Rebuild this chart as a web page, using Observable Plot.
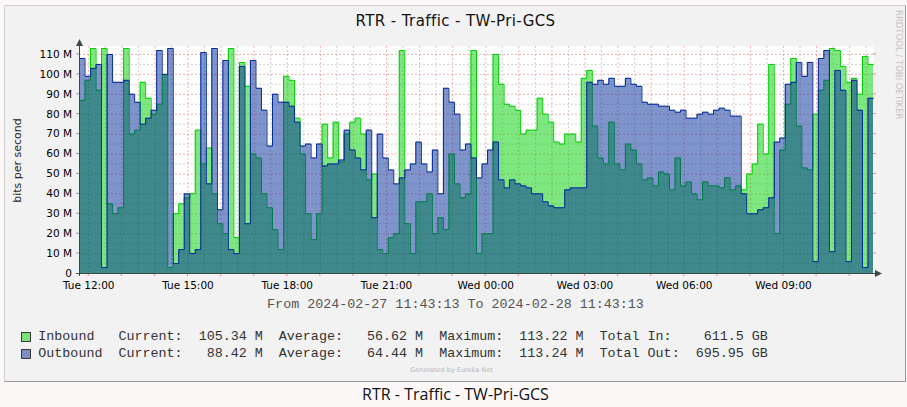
<!DOCTYPE html>
<html>
<head>
<meta charset="utf-8">
<script src="https://cdn.jsdelivr.net/npm/d3@7"></script>
<script src="https://cdn.jsdelivr.net/npm/@observablehq/plot@0.6"></script>
<style>
  html, body { margin: 0; padding: 0; }
  body { width: 907px; height: 407px; position: relative; overflow: hidden; background: #fcf8f7; }
  #frame { position: absolute; left: 4px; top: 5px; width: 902px; height: 377px; box-sizing: border-box;
           background: #f2f2f2; border-style: solid; border-width: 1px;
           border-color: #cfcfcf #9a9a9a #9a9a9a #cfcfcf; }
  .t { position: absolute; white-space: pre; line-height: 1; }
  #title { left: 0; width: 911px; top: 13.6px; text-align: center; font-family: "DejaVu Sans"; font-size: 15px; letter-spacing: 0.4px; color: #111; }
  #ylab { left: -83.5px; width: 200px; top: 154.5px; text-align: center; font-family: "DejaVu Sans"; font-size: 11px; color: #222; transform: rotate(-90deg); }
  #chart { position: absolute; left: 0; top: 30px; }
  .mono { font-family: "Liberation Mono", monospace; font-size: 13.37px; color: #333; }
  #range { left: 0; width: 911px; text-align: center; top: 298px; color: #555; }
  .box { position: absolute; width: 10px; height: 10px; box-sizing: border-box; border: 1px solid #3a3a3a; }
  #gen { left: 0; width: 903px; text-align: center; top: 367px; font-family: "DejaVu Sans"; font-size: 6.5px; color: #b5b5b5; }
  #rrd { left: 894px; top: 10px; writing-mode: vertical-rl; font-family: "DejaVu Sans"; font-size: 8.5px; color: #c2c2c2; }
  #caption { left: 0; width: 911px; text-align: center; top: 386px; font-family: "Open Sans"; font-size: 16px; color: #111; }
</style>
</head>
<body>
<div id="frame"></div>
<div id="title" class="t"></div>
<div id="ylab" class="t"></div>
<div id="rrd" class="t"></div>
<div id="chart"></div>
<div id="range" class="t mono"></div>
<div id="legend"></div>
<div id="gen" class="t"></div>
<div id="caption" class="t"></div>
<script>
// ---------- data (10-minute samples, M bits/s) ----------
const inbound = [
  87, 97, 113, 92, 113, 35, 30, 33, 113, 70, 72, 96, 88, 80, 85, 100, 3, 30, 35, 38, 40, 72, 55, 63, 40, 25, 20, 113, 18,
  106, 94, 60, 58, 40, 33, 22, 12, 99, 97, 78, 60, 30, 17, 30, 75, 58, 76, 56, 70, 76, 78, 70, 47, 50, 12, 10, 18, 20,
  112, 25, 10, 36, 36, 40, 20, 28, 22, 60, 45, 38, 40, 112, 10, 20, 20, 110, 95, 85, 84, 82, 70, 72, 72, 88, 80, 76, 66,
  65, 70, 70, 66, 98, 102, 74, 58, 55, 76, 55, 52, 65, 62, 55, 47, 48, 44, 51, 50, 42, 58, 44, 46, 40, 37, 46, 44, 44,
  43, 48, 42, 44, 42, 50, 55, 75, 60, 105, 20, 62, 85, 108, 74, 53, 52, 80, 92, 97, 113, 112, 104, 96, 98, 90, 109, 105
];
const outbound = [
  108, 99, 103, 105, 3, 110, 96, 96, 97, 90, 86, 75, 78, 82, 112, 100, 113, 5, 12, 40, 10, 12, 111, 45, 113, 32, 107, 12, 10,
  104, 25, 107, 93, 82, 64, 90, 86, 86, 84, 76, 64, 65, 58, 65, 54, 55, 55, 57, 72, 62, 58, 52, 72, 28, 70, 58, 52, 45,
  48, 52, 55, 66, 55, 51, 62, 40, 93, 86, 80, 62, 65, 58, 48, 55, 62, 66, 47, 43, 47, 45, 44, 43, 40, 40, 36, 34, 33,
  33, 42, 43, 43, 43, 96, 95, 97, 95, 98, 94, 94, 98, 95, 94, 86, 85, 85, 84, 84, 82, 81, 82, 78, 78, 80, 81, 80, 82,
  83, 82, 79, 79, 40, 30, 30, 32, 33, 38, 66, 68, 95, 96, 106, 99, 106, 6, 108, 112, 11, 102, 92, 6, 97, 82, 3, 88
];
const startHour = 11 + 43/60 + 13/3600;   // 2024-02-27 11:43:13
const stepMinutes = 10;
const spanHours = 24;

const xTicks = [12, 15, 18, 21, 24, 27, 30, 33];
const xTickLabels = ["Tue 12:00", "Tue 15:00", "Tue 18:00", "Tue 21:00", "Wed 00:00", "Wed 03:00", "Wed 06:00", "Wed 09:00"];
const yTicks = [0, 10, 20, 30, 40, 50, 60, 70, 80, 90, 100, 110];
const yTickLabels = ["0", "10 M", "20 M", "30 M", "40 M", "50 M", "60 M", "70 M", "80 M", "90 M", "100 M", "110 M"];
const yMax = 114;

const titleText = "RTR - Traffic - TW-Pri-GCS";
const yAxisTitle = "bits per second";
const rangeText = "From 2024-02-27 11:43:13 To 2024-02-28 11:43:13";
const legendNames = ["Inbound", "Outbound"];
const legendCurrent = ["105.34 M", "88.42 M"];
const legendAverage = ["56.62 M", "64.44 M"];
const legendMaximum = ["113.22 M", "113.24 M"];
const legendTotalLabel = ["Total In:", "Total Out:"];
const legendTotal = ["611.5 GB", "695.95 GB"];
const legendColors = ["#7ae17a", "#7a8fc6"];

// ---------- build ----------
const rows = inbound.map((v, i) => ({t: startHour + i * stepMinutes / 60, inb: v, out: outbound[i]}));
rows.push({t: startHour + spanHours, inb: inbound[inbound.length - 1], out: outbound[outbound.length - 1]});

const xLab = new Map(xTicks.map((d, i) => [d, xTickLabels[i]]));
const yLab = new Map(yTicks.map((d, i) => [d, yTickLabels[i]]));
const halfHours = d3.range(12, startHour + spanHours, 0.5);
const minorX = halfHours.filter(h => h % 1 !== 0);
const majorX = halfHours.filter(h => h % 1 === 0);
const minorY = d3.range(5, yMax, 10);
const majorY = yTicks.filter(d => d > 0);

function decor(index, {x, y}, values, dims) {
  const ns = "http://www.w3.org/2000/svg";
  const g = document.createElementNS(ns, "g");
  const L = dims.marginLeft, R = dims.width - dims.marginRight;
  const B = dims.height - dims.marginBottom, T = dims.marginTop;
  const add = (tag, attrs) => { const e = document.createElementNS(ns, tag); for (const k in attrs) e.setAttribute(k, attrs[k]); g.appendChild(e); };
  for (const h of majorX) add("line", {x1: x(h), x2: x(h), y1: B, y2: B + 3, stroke: "#e88"});
  for (const v of majorY) { add("line", {x1: L - 3, x2: L, y1: y(v), y2: y(v), stroke: "#999"}); add("line", {x1: R, x2: R + 3, y1: y(v), y2: y(v), stroke: "#e88"}); }
  add("line", {x1: L - 3, x2: R + 3, y1: B + 0.5, y2: B + 0.5, stroke: "#3c4a44"});
  add("path", {d: `M${R + 9},${B + 0.5}L${R + 2},${B - 3}L${R + 2},${B + 4}Z`, fill: "#3c4a44"});
  add("line", {x1: L + 0.5, x2: L + 0.5, y1: B + 3, y2: T - 2, stroke: "#3c4a44"});
  add("path", {d: `M${L + 0.5},${T - 7}L${L - 3},${T}L${L + 4},${T}Z`, fill: "#3c4a44"});
  return g;
}

const chart = Plot.plot({
  width: 907, height: 270,
  marginLeft: 79, marginRight: 34, marginTop: 16, marginBottom: 27,
  style: {background: "transparent", fontFamily: "DejaVu Sans", fontSize: "10.5px", color: "#000", overflow: "visible"},
  x: {domain: [startHour, startHour + spanHours], ticks: xTicks, tickFormat: d => xLab.get(d), tickSize: 0, tickPadding: 8, label: null},
  y: {domain: [0, yMax], ticks: yTicks, tickFormat: d => yLab.get(d), tickSize: 0, tickPadding: 7.5, label: null},
  marks: [
    Plot.frame({fill: "#fff", stroke: "none"}),
    Plot.ruleX(minorX, {stroke: "#b0b0b0", strokeOpacity: 0.6, strokeDasharray: "2,2"}),
    Plot.ruleY(minorY, {stroke: "#b0b0b0", strokeOpacity: 0.6, strokeDasharray: "2,2"}),
    Plot.ruleX(majorX, {stroke: "#e65050", strokeOpacity: 0.45, strokeDasharray: "2,2"}),
    Plot.ruleY(majorY, {stroke: "#e65050", strokeOpacity: 0.45, strokeDasharray: "2,2"}),
    Plot.areaY(rows, {x: "t", y: "inb", curve: "step-after", fill: "#00cf00", fillOpacity: 0.5}),
    Plot.lineY(rows, {x: "t", y: "inb", curve: "step-after", stroke: "#00cf00", strokeWidth: 1}),
    Plot.areaY(rows, {x: "t", y: "out", curve: "step-after", fill: "#002a97", fillOpacity: 0.5}),
    Plot.lineY(rows, {x: "t", y: "out", curve: "step-after", stroke: "#002a97", strokeWidth: 1}),
    decor
  ]
});
document.getElementById("chart").appendChild(chart);

document.getElementById("title").textContent = titleText;
document.getElementById("ylab").textContent = yAxisTitle;
document.getElementById("range").textContent = rangeText;
document.getElementById("gen").textContent = "Generated by Eureka Net";
document.getElementById("rrd").textContent = "RRDTOOL / TOBI OETIKER";
document.getElementById("caption").textContent = titleText;

const legend = document.getElementById("legend");
legendNames.forEach((name, i) => {
  const top = 330.3 + i * 16.3;
  const box = document.createElement("div");
  box.className = "box";
  box.style.left = "21px"; box.style.top = (top + 2) + "px"; box.style.background = legendColors[i];
  legend.appendChild(box);
  const line = document.createElement("div");
  line.className = "t mono";
  line.style.left = "38.3px"; line.style.top = top + "px";
  line.textContent = name.padEnd(10) + "Current:" + legendCurrent[i].padStart(10) +
    "  Average:" + legendAverage[i].padStart(10) + "  Maximum:" + legendMaximum[i].padStart(10) +
    "  " + legendTotalLabel[i].padEnd(11) + legendTotal[i].padStart(10);
  legend.appendChild(line);
});
</script>
</body>
</html>
